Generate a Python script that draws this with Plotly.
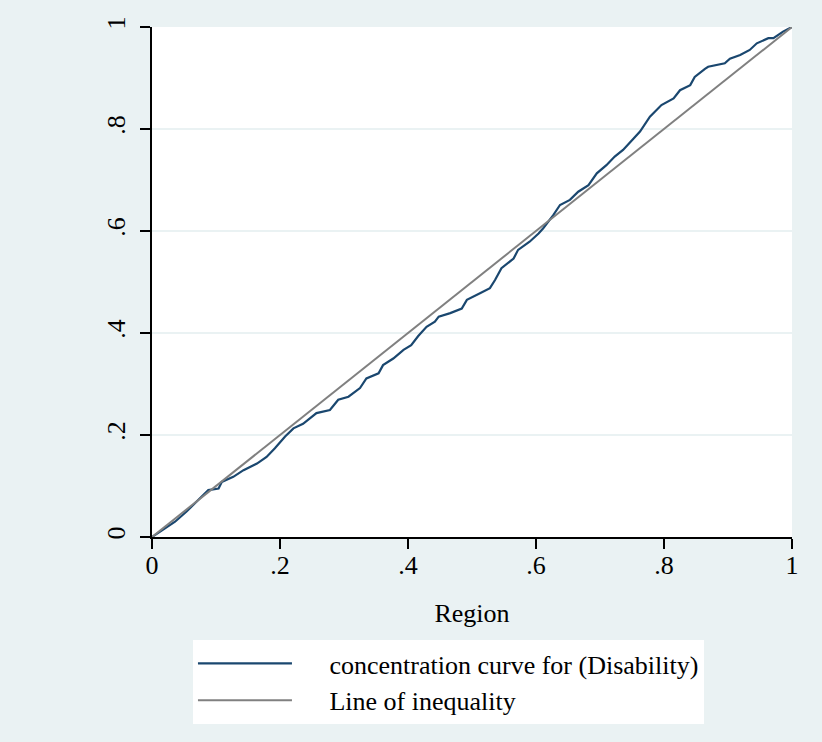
import plotly.graph_objects as go

# Cumulative share of population (ranked by region) and of disability
pop_share = [0.0, 0.020, 0.036, 0.054, 0.075, 0.088, 0.104, 0.109, 0.127, 0.143,
             0.164, 0.179, 0.192, 0.208, 0.221, 0.236, 0.257, 0.278, 0.291, 0.307,
             0.325, 0.335, 0.354, 0.361, 0.377, 0.393, 0.405, 0.416, 0.429, 0.442,
             0.448, 0.466, 0.484, 0.492, 0.5125, 0.528, 0.536, 0.546, 0.565, 0.572,
             0.590, 0.604, 0.611, 0.627, 0.6375, 0.653, 0.666, 0.682, 0.695, 0.710,
             0.723, 0.736, 0.750, 0.7625, 0.778, 0.796, 0.815, 0.825, 0.841, 0.848,
             0.864, 0.869, 0.895, 0.903, 0.919, 0.934, 0.945, 0.963, 0.971, 0.986, 1.0]
dis_share = [0.0, 0.017, 0.030, 0.050, 0.076, 0.092, 0.095, 0.108, 0.118, 0.131,
             0.144, 0.157, 0.174, 0.197, 0.213, 0.222, 0.243, 0.249, 0.269, 0.275,
             0.292, 0.311, 0.321, 0.337, 0.350, 0.367, 0.376, 0.394, 0.412, 0.422,
             0.432, 0.439, 0.448, 0.465, 0.478, 0.488, 0.504, 0.527, 0.546, 0.563,
             0.579, 0.595, 0.605, 0.631, 0.651, 0.661, 0.677, 0.690, 0.713, 0.729,
             0.746, 0.759, 0.778, 0.795, 0.824, 0.847, 0.860, 0.876, 0.886, 0.902,
             0.918, 0.922, 0.929, 0.938, 0.945, 0.955, 0.968, 0.978, 0.978, 0.991, 1.0]

equal_x = [0, 1]
equal_y = [0, 1]

tick_vals = [0, 0.2, 0.4, 0.6, 0.8, 1]
tick_text = ["0", ".2", ".4", ".6", ".8", "1"]

BG = "#EAF2F3"
FONT = "Liberation Serif, Times New Roman, serif"
PAD = "\u00a0" * 5  # gap between legend key and label

fig = go.Figure()
fig.add_trace(go.Scatter(
    x=pop_share, y=dis_share, mode="lines",
    name=PAD + "concentration curve for (Disability)",
    line=dict(color="#1a476f", width=2.2),
))
fig.add_trace(go.Scatter(
    x=equal_x, y=equal_y, mode="lines",
    name=PAD + "Line of inequality",
    line=dict(color="#808080", width=2),
))

axis_common = dict(
    range=[0, 1], tickvals=tick_vals, ticktext=tick_text,
    showline=True, linecolor="black", linewidth=1.5,
    ticks="outside", ticklen=10, tickwidth=1.5, tickcolor="black",
    zeroline=False, tickfont=dict(family=FONT, size=26, color="black"),
)

fig.update_layout(
    width=822, height=742,
    margin=dict(l=152, r=30, t=27, b=205),
    paper_bgcolor=BG, plot_bgcolor="white",
    font=dict(family=FONT, size=26, color="black"),
    xaxis=dict(**axis_common, showgrid=False, ticklabelstandoff=-6,
               title=dict(text="Region", font=dict(family=FONT, size=26), standoff=25)),
    yaxis=dict(**axis_common, showgrid=True, gridcolor=BG, gridwidth=1.5,
               tickangle=-90, ticklabelstandoff=5),
    showlegend=True,
    legend=dict(
        x=0.064, y=-0.202, xanchor="left", yanchor="top",
        bgcolor="white", borderwidth=0,
        font=dict(family=FONT, size=26, color="black"),
        itemwidth=94, tracegroupgap=0,
    ),
)

fig.write_html("out.html")
